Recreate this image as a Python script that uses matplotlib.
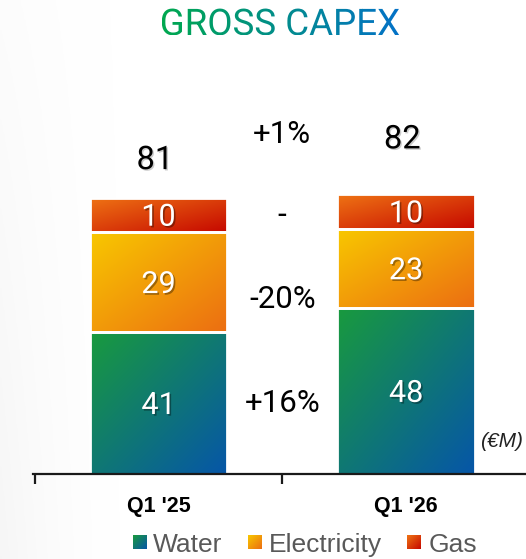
import numpy as np
import matplotlib
matplotlib.use("Agg")
import matplotlib.pyplot as plt
import matplotlib.patheffects as pe
from matplotlib.colors import LinearSegmentedColormap
from matplotlib.patches import Rectangle, PathPatch
from matplotlib.textpath import TextPath
from matplotlib.font_manager import FontProperties
from matplotlib.transforms import Affine2D

# ---- data -------------------------------------------------------------
categories = ["Q1 '25", "Q1 '26"]
water = [41, 48]
electricity = [29, 23]
gas = [10, 10]
totals = [81, 82]
series_names = ["Water", "Electricity", "Gas"]
change_total = "+1%"
change_gas = "-"
change_electricity = "-20%"
change_water = "+16%"

# ---- styling ----------------------------------------------------------
W, H = 526, 559
DPI = 100
grad = {
    "Water": ("#199a3e", "#0656a8"),
    "Electricity": ("#f8c800", "#ec6e12"),
    "Gas": ("#ef7414", "#c60800"),
}
title_grad = ("#00a84f", "#0472c8")
NUM_FONT = "Roboto"


def gradient_cmap(c0, c1):
    return LinearSegmentedColormap.from_list("g", [c0, c1])


def diag_field(n=96):
    u = np.linspace(0, 1, n)
    U, V = np.meshgrid(u, u)
    return (U + V) / 2.0  # 0 at top-left, 1 at bottom-right (origin='upper')


def fill_gradient(ax, patch, c0, c1, zorder=2):
    x0, y0 = patch.get_x(), patch.get_y()
    w, h = patch.get_width(), patch.get_height()
    im = ax.imshow(diag_field(), cmap=gradient_cmap(c0, c1), vmin=0, vmax=1,
                   extent=(x0, x0 + w, y0, y0 + h), origin="upper",
                   aspect="auto", interpolation="bilinear", zorder=zorder)
    im.set_clip_path(patch)
    return im


fig = plt.figure(figsize=(W / DPI, H / DPI), dpi=DPI)
fig.patch.set_facecolor("white")

# overlay in pixel units for title, background and legend
ov = fig.add_axes([0, 0, 1, 1], zorder=0)
ov.set_xlim(0, W)
ov.set_ylim(0, H)
ov.axis("off")

# faint grey wash on the left edge
xs = np.linspace(0, 1, 200)
ys = np.linspace(0, 1, 200)
X, Y = np.meshgrid(xs, ys)
wash = np.clip(1 - X * W / 130.0, 0, 1) ** 1.8 * (0.3 + 0.7 * Y)
bg = np.ones((200, 200, 4))
bg[..., :3] = 0.90
bg[..., 3] = wash * 0.35
ov.imshow(bg, extent=(0, W, 0, H), origin="upper", aspect="auto", zorder=0)

# gradient title
tp = TextPath((0, 0), "GROSS CAPEX", size=36.7, prop=FontProperties(family=NUM_FONT))
bb = tp.get_extents()
tx = 280.5 - (bb.x0 + bb.x1) / 2
ty = H - 35
tpath = Affine2D().translate(tx, ty).transform_path(tp)
tpatch = PathPatch(tpath, facecolor="none", edgecolor="none", transform=ov.transData)
ov.add_patch(tpatch)
tb = tpath.get_extents()
u = np.linspace(0, 1, 256)[None, :].repeat(4, axis=0)
tim = ov.imshow(u, cmap=gradient_cmap(*title_grad), vmin=0, vmax=1,
                extent=(tb.x0, tb.x1, tb.y0, tb.y1), aspect="auto", zorder=2)
tim.set_clip_path(tpatch)

# legend
leg_items = [(133, 153), (248, 269), (407, 429)]
for name, (sx, txx) in zip(series_names, leg_items):
    sq = Rectangle((sx, H - 549), 14, 14, facecolor="none", edgecolor="none",
                   transform=ov.transData)
    ov.add_patch(sq)
    fill_gradient(ov, sq, *grad[name], zorder=2)
    ov.text(txx, H - 552, name, fontsize=19, family="Liberation Sans",
            color="#595959", ha="left", va="baseline")

# units note
ov.text(523, H - 447, "(\u20acM)", fontsize=15, family="Liberation Sans",
        style="italic", color="#222222", ha="right", va="baseline")

ov.set_xlim(0, W)
ov.set_ylim(0, H)

# ---- main stacked bars -----------------------------------------------
ax = fig.add_axes([33 / W, (H - 474) / H, 1 - 33 / W, 474 / H], zorder=1)
ax.patch.set_alpha(0)
x = np.arange(len(categories))
bw = 0.554
stack = [("Water", water), ("Electricity", electricity), ("Gas", gas)]
bottom = np.zeros(len(categories))
seg_patches = []
for name, vals in stack:
    bars = ax.bar(x, vals, bw, bottom=bottom, facecolor="none",
                  edgecolor="white", linewidth=2.0, zorder=3)
    for b in bars:
        fill_gradient(ax, b, *grad[name], zorder=2)
    seg_patches.append((name, vals, bottom.copy()))
    bottom = bottom + np.array(vals)

shadow = [pe.SimplePatchShadow(offset=(1.2, -1.2), shadow_rgbFace="black", alpha=0.35), pe.Normal()]
fs_num = 22
fs_big = 23.5
fs_chg = 22.5
for name, vals, bots in seg_patches:
    for xi, v, b0 in zip(x, vals, bots):
        ax.annotate(str(v), (xi, b0 + v / 2), xytext=(0, -0.355 * fs_num),
                    textcoords="offset points", ha="center", va="baseline",
                    color="white", fontsize=fs_num, family=NUM_FONT,
                    path_effects=shadow, zorder=5)

soft = [pe.SimplePatchShadow(offset=(1, -1), shadow_rgbFace="black", alpha=0.2), pe.Normal()]
total_lift = [10.6, 15.6]
for xi, t, lift in zip(x, totals, total_lift):
    ax.annotate(str(t), (xi - 0.015, t),
                xytext=(0, lift * 3.455 / DPI * 72 - 0.355 * fs_big),
                textcoords="offset points", ha="center", va="baseline",
                color="black", fontsize=fs_big, family=NUM_FONT, path_effects=soft)

# change column between the two bars
mid = 0.5
change_labels = [(change_total, 98.9), (change_gas, 75.6), (change_electricity, 51.2),
                 (change_water, 21.1)]
for lab, yv in change_labels:
    ax.annotate(lab, (mid, yv), xytext=(0, -0.355 * fs_chg), textcoords="offset points",
                ha="center", va="baseline", color="black", fontsize=fs_chg,
                family=NUM_FONT)

ax.set_xlim(-0.507, 1.485)
ax.set_ylim(0, 474 / 3.455)
for s in ["top", "right", "left"]:
    ax.spines[s].set_visible(False)
ax.spines["bottom"].set_linewidth(1.6)
ax.spines["bottom"].set_color("#1a1a1a")
ax.spines["bottom"].set_zorder(6)
ax.set_yticks([])
ax.set_xticks(x)
ax.set_xticklabels(categories, fontsize=15.5, family="Liberation Sans", fontweight="bold")
ax.tick_params(axis="x", which="major", length=0, pad=16)
ax.set_xticks([-0.5, 0.5], minor=True)
ax.tick_params(axis="x", which="minor", length=7, width=1.6, color="#1a1a1a", direction="out")

fig.savefig("out.png", dpi=DPI, facecolor="white")
